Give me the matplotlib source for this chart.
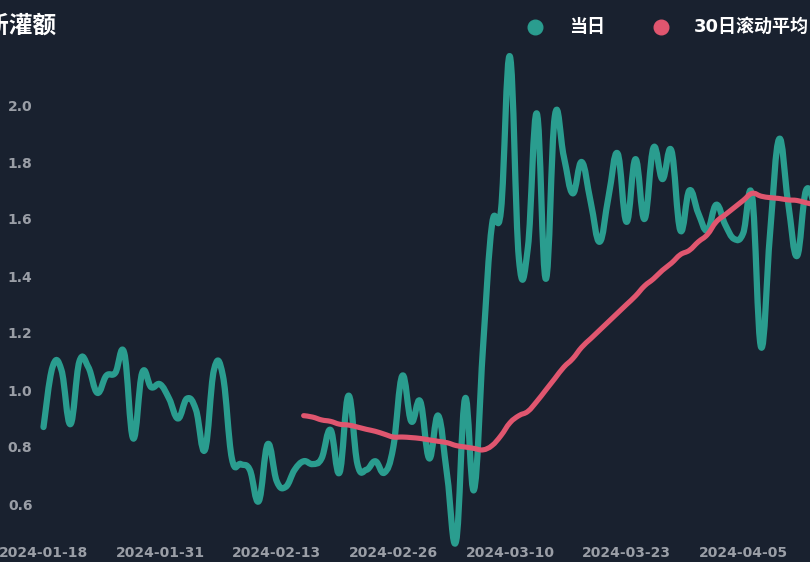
import numpy as np
import pandas as pd
import matplotlib
matplotlib.use("Agg")
import matplotlib.pyplot as plt
from matplotlib.path import Path
from matplotlib.patches import PathPatch
from matplotlib.lines import Line2D

plt.rcParams['font.family'] = ['DejaVu Sans', 'Noto Sans CJK SC']

# ---------------- data ----------------
start_date = "2024-01-18"
daily = [0.87, 1.08, 1.07, 0.88, 1.10, 1.08, 0.99, 1.05, 1.06, 1.13,
         0.83, 1.06, 1.01, 1.02, 0.97, 0.90, 0.97, 0.93, 0.79, 1.07,
         1.05, 0.76, 0.74, 0.72, 0.61, 0.81, 0.68, 0.66, 0.72, 0.75,
         0.74, 0.76, 0.86, 0.71, 0.98, 0.74, 0.72, 0.75, 0.71, 0.80,
         1.05, 0.89, 0.96, 0.76, 0.91, 0.70, 0.47, 0.97, 0.65, 1.15,
         1.58, 1.63, 2.17, 1.46, 1.50, 1.97, 1.39, 1.96, 1.82, 1.69,
         1.80, 1.66, 1.52, 1.68, 1.83, 1.59, 1.81, 1.60, 1.85, 1.74,
         1.84, 1.56, 1.70, 1.62, 1.56, 1.65, 1.58, 1.53, 1.55, 1.68,
         1.15, 1.55, 1.88, 1.66, 1.47, 1.70, 1.64]
rolling_start = 29
rolling30 = [0.910, 0.905, 0.895, 0.890, 0.880, 0.877, 0.870, 0.862, 0.855, 0.845,
             0.835, 0.835, 0.833, 0.830, 0.825, 0.820, 0.815, 0.805, 0.800, 0.795,
             0.790, 0.805, 0.840, 0.885, 0.910, 0.925, 0.960, 1.000, 1.040, 1.080,
             1.110, 1.150, 1.180, 1.210, 1.240, 1.270, 1.300, 1.330, 1.365, 1.390,
             1.420, 1.445, 1.475, 1.490, 1.520, 1.545, 1.590, 1.615, 1.640, 1.665,
             1.690, 1.680, 1.675, 1.672, 1.667, 1.665, 1.657, 1.650]
series_names = ["当日", "30日滚动平均"]
title_text = "每日新灌额"
yticks = [0.6, 0.8, 1.0, 1.2, 1.4, 1.6, 1.8, 2.0]

dates = pd.date_range(start_date, periods=len(daily), freq="D")
date_labels = [d.strftime("%Y-%m-%d") for d in dates]

# ---------------- style ----------------
BG = "#19212f"
TEAL = "#2a9d8f"
PINK = "#e0566f"
TICK = "#9a9ea6"

W, H = 810, 562
fig = plt.figure(figsize=(W / 100, H / 100), dpi=100, facecolor=BG)

x0_px, px_per_day = 43.5, 8.97
ymin, ymax = 0.46, 2.2
y_of = lambda v: 390 - (v - 1.0) * 285   # pixel from top
n = len(daily)
left = x0_px / W
width = (px_per_day * (n - 1)) / W
bottom = (H - y_of(ymin)) / H
height = (y_of(ymin) - y_of(ymax)) / H
ax = fig.add_axes([left, bottom, width, height])
ax.set_facecolor(BG)
ax.set_xlim(0, n - 1)
ax.set_ylim(ymin, ymax)
for s in ax.spines.values():
    s.set_visible(False)

tick_idx = list(range(0, n, 13))
ax.set_xticks(tick_idx)
ax.set_xticklabels([date_labels[i] for i in tick_idx])
ax.set_yticks(yticks)
ax.set_yticklabels([f"{v:.1f}" for v in yticks])
ax.tick_params(axis='both', length=0, colors=TICK, labelsize=10)
ax.tick_params(axis='x', pad=1.5)
ax.tick_params(axis='y', pad=8)
for lab in ax.get_xticklabels() + ax.get_yticklabels():
    lab.set_fontweight('bold')


def smooth_path(ax, xs, ys, k=0.2):
    pts = ax.transData.transform(np.column_stack([xs, ys]))
    m = len(pts)
    cps = []
    for i in range(m):
        cur = pts[i]
        prev = pts[i - 1] if i > 0 else cur
        nxt = pts[i + 1] if i < m - 1 else cur
        v = nxt - prev
        cps.append((cur - v * k, cur + v * k))
    verts = [pts[0]]
    codes = [Path.MOVETO]
    for i in range(m - 1):
        verts += [cps[i][1], cps[i + 1][0], pts[i + 1]]
        codes += [Path.CURVE4] * 3
    verts = ax.transData.inverted().transform(np.array(verts))
    return Path(verts, codes)


xs_daily = np.arange(n)
xs_roll = np.arange(rolling_start, rolling_start + len(rolling30))
p1 = smooth_path(ax, xs_daily, np.array(daily))
p2 = smooth_path(ax, xs_roll, np.array(rolling30))
ax.add_patch(PathPatch(p1, fill=False, edgecolor=TEAL, lw=4.5, clip_on=False,
                       capstyle='round', joinstyle='round', zorder=3))
ax.add_patch(PathPatch(p2, fill=False, edgecolor=PINK, lw=3.7, clip_on=False,
                       capstyle='round', joinstyle='round', zorder=4))

# title (clipped at left like the reference)
fig.text(56 / W, 1 - 26 / H, title_text, ha='right', va='center', color='white',
         fontsize=17, fontweight='bold', family=['Noto Sans CJK SC', 'DejaVu Sans'])

# legend
for cx, tx, col, name in [(535, 569, TEAL, series_names[0]), (661, 694, PINK, series_names[1])]:
    fig.add_artist(Line2D([cx / W], [1 - 27 / H], transform=fig.transFigure, marker='o',
                          markersize=10.5, color=col, linestyle='none'))
    fig.text(tx / W, 1 - 27 / H, name, ha='left', va='center', color='white',
             fontsize=13, fontweight='bold', family=['DejaVu Sans', 'Noto Sans CJK SC'])

fig.savefig("out.png", dpi=100, facecolor=BG)
